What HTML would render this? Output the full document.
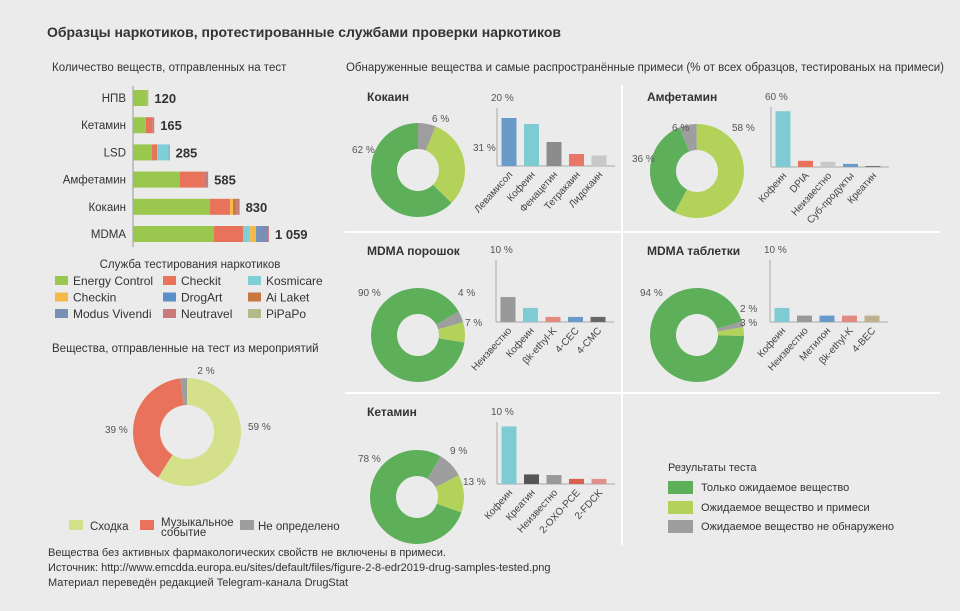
<!DOCTYPE html>
<html><head><meta charset="utf-8">
<style>
html,body{margin:0;padding:0;background:#ebebeb;}
svg{display:block;font-family:"Liberation Sans","Noto Sans CJK SC",sans-serif;}
</style></head>
<body>
<svg id="root" width="960" height="611" viewBox="0 0 960 611">
<rect x="0" y="0" width="960" height="611" fill="#ebebeb"/>
<text x="47" y="37" font-size="14" font-weight="bold" fill="#333">Образцы наркотиков, протестированные службами проверки наркотиков</text>
<text x="52" y="71" font-size="11.5" fill="#333">Количество веществ, отправленных на тест</text>
<text x="346" y="71" font-size="11.5" fill="#333" textLength="598" lengthAdjust="spacingAndGlyphs">Обнаруженные вещества и самые распространённые примеси (% от всех образцов, тестированых на примеси)</text>
<g>
<line x1="622" y1="85" x2="622" y2="545" stroke="#fff" stroke-width="2"/>
<line x1="345" y1="232" x2="940" y2="232" stroke="#fff" stroke-width="2"/>
<line x1="345" y1="393" x2="940" y2="393" stroke="#fff" stroke-width="2"/>
</g>
<g id="left-bars"></g>
<g id="svc-legend"></g>
<text x="52" y="352" font-size="11.5" fill="#333">Вещества, отправленные на тест из мероприятий</text>
<g id="event-donut"></g>
<g font-size="11.5" fill="#333">
<rect x="69" y="520" width="14" height="10" fill="#d5e08a"/>
<text x="90" y="530">Сходка</text>
<rect x="140" y="520" width="14" height="10" fill="#e8735a"/>
<text x="161" y="526">Музыкальное</text>
<text x="161" y="536">событие</text>
<rect x="240" y="520" width="14" height="10" fill="#9e9e9e"/>
<text x="258" y="530">Не определено</text>
</g>
<g font-size="11" fill="#333">
<text x="48" y="556">Вещества без активных фармакологических свойств не включены в примеси.</text>
<text x="48" y="571">Источник: http://www.emcdda.europa.eu/sites/default/files/figure-2-8-edr2019-drug-samples-tested.png</text>
<text x="48" y="586">Материал переведён редакцией Telegram-канала DrugStat</text>
</g>
<g id="panels"></g>
<g font-size="11" fill="#333">
<text x="668" y="471">Результаты теста</text>
<rect x="668" y="481" width="25" height="13" fill="#5daf5a"/>
<text x="701" y="491">Только ожидаемое вещество</text>
<rect x="668" y="501" width="25" height="13" fill="#b3d25a"/>
<text x="701" y="511">Ожидаемое вещество и примеси</text>
<rect x="668" y="520" width="25" height="13" fill="#9e9e9e"/>
<text x="701" y="530">Ожидаемое вещество не обнаружено</text>
</g>
</svg>
<script>
const NS = "http://www.w3.org/2000/svg";
// ---- left stacked bar data ----
const drugs = ["НПВ","Кетамин","LSD","Амфетамин","Кокаин","MDMA"];
const services = ["Energy Control","Checkit","Kosmicare","Checkin","DrogArt","Ai Laket","Modus Vivendi","Neutravel","PiPaPo"];
const totals = [120,165,285,585,830,1059];
const totalLabels = ["120","165","285","585","830","1 059"];
const svcEnergy = [108,100,148,366,600,631];
const svcCheckit = [0,50,40,180,156,226];
const svcKosmicare = [0,0,90,0,0,55];
const svcCheckin = [0,0,0,0,23,47];
const svcDrogArt = [0,0,7,0,0,15];
const svcAiLaket = [0,0,0,0,25,0];
const svcModus = [0,0,0,0,0,78];
const svcNeutravel = [0,15,0,39,26,7];
const svcPiPaPo = [12,0,0,0,0,0];
const svcColors = ["#9ac84e","#e8735a","#7ecfd6","#f5b94a","#5b8fc9","#c8773f","#7a8fb5","#c97b7b","#b5b98a"];
// ---- event donut ----
const eventCats = ["Сходка","Музыкальное событие","Не определено"];
const eventVals = [59,39,2];
// ---- panels ----
const panelNames = ["Кокаин","Амфетамин","MDMA порошок","MDMA таблетки","Кетамин"];
const donutOnly = [62,36,90,94,78];
const donutMix = [31,58,7,3,13];
const donutNone = [6,6,4,2,9];
const barCats0 = ["Левамисол","Кофеин","Фенацетин","Тетракаин","Лидокаин"];
const barVals0 = [16,14,8,4,3.5];
const barCats1 = ["Кофеин","DPIA","Неизвестно","Суб-продукты","Креатин"];
const barVals1 = [54,6,5,3,1];
const barCats2 = ["Неизвестно","Кофеин","βk-ethyl-K","4-CEC","4-CMC"];
const barVals2 = [3.9,2.2,0.8,0.8,0.8];
const barCats3 = ["Кофеин","Неизвестно","Метилон","βk-ethyl-K","4-BEC"];
const barVals3 = [2.2,1,1,1,1];
const barCats4 = ["Кофеин","Креатин","Неизвестно","2-OXO-PCE","2-FDCK"];
const barVals4 = [9,1.5,1.4,0.8,0.8];
const barMax = [20,60,10,10,10];

function mk(tag, attrs, parent){const e=document.createElementNS(NS,tag);for(const k in attrs)e.setAttribute(k,attrs[k]);parent.appendChild(e);return e;}

// left bars
(function(){
  const g=document.getElementById("left-bars");
  const x0=133, xScale=v=>v*136/1059, rowY=i=>98+i*27.2, bh=16;
  const series=[svcEnergy,svcCheckit,svcKosmicare,svcCheckin,svcDrogArt,svcAiLaket,svcModus,svcNeutravel,svcPiPaPo];
  const ax=mk("line",{x1:x0,y1:86,x2:x0,y2:247,stroke:"#999","stroke-width":1},g);
  
  
  drugs.forEach((d,i)=>{
    const cy=rowY(i);
    const t=mk("text",{x:x0-7,y:cy+4,"font-size":11.5,fill:"#333","text-anchor":"end"},g);t.textContent=d;
    
    
    let acc=0;
    series.forEach((s,j)=>{
      if(!s[i])return;
      const r=mk("rect",{x:x0+xScale(acc),y:cy-bh/2,width:xScale(s[i]),height:bh,fill:svcColors[j]},g);
      
      
      acc+=s[i];
    });
    const v=mk("text",{x:x0+xScale(totals[i])+6,y:cy+5,"font-size":13,"font-weight":"bold",fill:"#333"},g);v.textContent=totalLabels[i];
    
    
  });
  const lg=document.getElementById("svc-legend");
  const tt=mk("text",{x:190,y:268,"font-size":11.5,fill:"#333","text-anchor":"middle"},lg);tt.textContent="Служба тестирования наркотиков";
  
  
  const cx=[55,163,248];
  services.forEach((s,k)=>{
    const col=k%3,row=Math.floor(k/3),y=276+row*16.5;
    const r=mk("rect",{x:cx[col],y:y,width:13,height:9,fill:svcColors[k]},lg);
    
    
    const t=mk("text",{x:cx[col]+18,y:y+9,"font-size":12,fill:"#333"},lg);t.textContent=s;
    
    
  });
})();

function arcPath(cx,cy,r,ri,a0,a1){
  const p=(a,rr)=>[cx+rr*Math.sin(a*Math.PI/180),cy-rr*Math.cos(a*Math.PI/180)];
  const large=(a1-a0)>180?1:0;
  const [x1,y1]=p(a0,r),[x2,y2]=p(a1,r),[x3,y3]=p(a1,ri),[x4,y4]=p(a0,ri);
  return `M${x1},${y1} A${r},${r} 0 ${large} 1 ${x2},${y2} L${x3},${y3} A${ri},${ri} 0 ${large} 0 ${x4},${y4} Z`;
}
function donut(g,cx,cy,r,ri,vals,colors,start){
  const tot=vals.reduce((a,b)=>a+b,0);let a=start;
  vals.forEach((v,i)=>{
    const sweep=v/tot*360;
    const p=mk("path",{d:arcPath(cx,cy,r,ri,a,a+sweep),fill:colors[i]},g);
    
    
    a+=sweep;
  });
}
function lbl(g,x,y,s,size,anchor){
  const t=mk("text",{x:x,y:y,"font-size":size||11,fill:"#555","text-anchor":anchor||"start"},g);t.textContent=s;
  
  
  return t;
}
// event donut
(function(){
  const g=document.getElementById("event-donut");
  donut(g,187,432,54,27,eventVals,["#d5e08a","#e8735a","#9e9e9e"],0);
  lbl(g,206,374,eventVals[2]+" %",10,"middle");
  lbl(g,248,430,eventVals[0]+" %",10);
  lbl(g,105,433,eventVals[1]+" %",10);
})();

// panels
(function(){
  const g=document.getElementById("panels");
  const cats=[barCats0,barCats1,barCats2,barCats3,barCats4];
  const vals=[barVals0,barVals1,barVals2,barVals3,barVals4];
  const titlePos=[[367,101],[647,101],[367,255],[647,255],[367,416]];
  const dc=[[418,170,0],[697,171,-22],[418,335,60],[697,335,73],[417,497,30]];
  const axisX=[497,771,496,770,497];
  const baseY=[166,167,322,322,484];
  const axH=[60,62,64,64,64];
  const barColors=[
    ["#6a9ac9","#7fcbd3","#8c8c8c","#e8776a","#c8c8c8"],
    ["#7fcbd3","#e8735a","#c8c8c8","#6a9ac9","#777"],
    ["#999","#7fcbd3","#e08a80","#6a9ac9","#666"],
    ["#7fcbd3","#999","#6a9ac9","#e08a80","#c0b090"],
    ["#7fcbd3","#555","#999","#d9604f","#e0908a"]];
  const lblPos=[
    [[352,153],[473,151],[432,122]],
    [[632,162],[732,131],[672,131]],
    [[358,296],[465,326],[458,296]],
    [[640,296],[740,326],[740,312]],
    [[358,462],[463,485],[450,454]]];
  panelNames.forEach((name,i)=>{
    const pg=mk("g",{},g);
    
    
    const t=mk("text",{x:titlePos[i][0],y:titlePos[i][1],"font-size":12,"font-weight":"bold",fill:"#333"},pg);t.textContent=name;
    
    
    const [cx,cy,st]=dc[i];
    donut(pg,cx,cy,47,21,[donutNone[i],donutMix[i],donutOnly[i]],["#9e9e9e","#b3d25a","#5daf5a"],st);
    const pv=[donutOnly[i],donutMix[i],donutNone[i]];
    pv.forEach((v,k)=>lbl(pg,lblPos[i][k][0],lblPos[i][k][1],v+" %",10));
    // bars
    const ax=axisX[i],by=baseY[i];
    const yS=v=>v/barMax[i]*axH[i];
    const a1=mk("line",{x1:ax,y1:by-axH[i]+2,x2:ax,y2:by,stroke:"#aaa","stroke-width":1},pg);
    
    
    const a2=mk("line",{x1:ax,y1:by,x2:ax+118,y2:by,stroke:"#aaa","stroke-width":1},pg);
    
    
    lbl(pg,ax-6,by-axH[i]-5,barMax[i]+" %",10);
    cats[i].forEach((c,k)=>{
      const bx=ax+12+k*22.5;
      const h=yS(vals[i][k]);
      const r=mk("rect",{x:bx-7.5,y:by-h,width:15,height:h,fill:barColors[i][k]},pg);
      
      
      const tx=mk("text",{x:bx+4,y:by+9,"font-size":10,fill:"#444","text-anchor":"end",transform:`rotate(-48 ${bx+4} ${by+9})`},pg);
      tx.textContent=c;
      
      
    });
  });
})();
</script>
</body></html>
